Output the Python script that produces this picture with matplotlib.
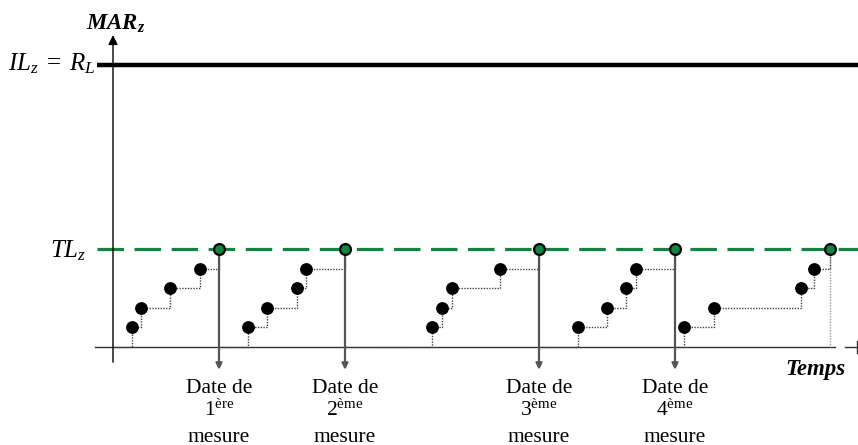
import numpy as np
import matplotlib.pyplot as plt

plt.rcParams['font.family'] = ['Liberation Serif', 'DejaVu Serif']
plt.rcParams['mathtext.fontset'] = 'custom'
plt.rcParams['mathtext.rm'] = 'Liberation Serif'
plt.rcParams['mathtext.it'] = 'Liberation Serif:italic'
plt.rcParams['mathtext.bf'] = 'Liberation Serif:bold:italic'

# levels of MAR_z (step units), TL reached at level 5
IL = 14.45
TL = 5
levels = [1, 2, 3, 4]

# times of the intermediate points for each cycle, and the measurement dates
cycle_times = [
    [131.7, 141.0, 170.3, 199.7],
    [248.0, 267.3, 296.7, 306.3],
    [432.3, 442.0, 451.7, 500.3],
    [577.7, 607.0, 626.3, 636.0],
    [684.3, 713.7, 800.7, 813.7],
]
dates = [219, 345, 539, 675, 830]
date_labels = ['1', '2', '3', '4']
date_sup = ['ère', 'ème', 'ème', 'ème']
t_origin = 113

green = '#0f8540'
axcol = '#333333'

fig = plt.figure(figsize=(8.58, 4.45), dpi=100)
ax = fig.add_axes([0, 0, 1, 1])
ax.set_xlim(0, 858)
ax.set_ylim(-5.03, 17.8)
ax.axis('off')

# axes
ax.annotate('', xy=(t_origin, 16.0), xytext=(t_origin, -0.78),
            arrowprops=dict(arrowstyle='-|>', color='black', lw=1.0,
                            mutation_scale=14, shrinkA=0, shrinkB=0))
ax.plot([95, 835], [0, 0], color=axcol, lw=1.0)
ax.plot([845, 857], [0, 0], color=axcol, lw=1.0)
ax.plot([857, 857], [-0.3, 0.3], color=axcol, lw=1.0)

# IL and TL thresholds
ax.plot([97, 858], [IL, IL], color='black', lw=3.2, solid_capstyle='butt')
ax.plot([97, 858], [TL, TL], color=green, lw=2.3, dashes=(8.3, 3.3))

# staircases
start = t_origin
for times, d in zip(cycle_times, dates):
    xs = [start] + times + [d]
    ys = [0] + levels + [TL]
    ax.plot(xs, ys, drawstyle='steps-post', color='#444444', lw=1.0,
            ls=(0, (1, 1)), zorder=2)
    ax.plot(times, levels, 'o', color='black', ms=8.2, zorder=4)
    ax.plot([d], [TL], 'o', mfc=green, mec='black', mew=1.6, ms=7.8, zorder=5)
    start = d

# measurement arrows
for d in dates[:4]:
    ax.annotate('', xy=(d, -1.17), xytext=(d, TL),
                arrowprops=dict(arrowstyle='-|>', color='#555555', lw=1.6,
                                mutation_scale=9, shrinkA=0, shrinkB=0),
                zorder=3)
ax.plot([dates[4], dates[4]], [TL, 0], color='#999999', lw=1.0,
        ls=(0, (1, 1)), zorder=2)

# labels
ax.text(86, 16.6, r'$\mathbf{MAR}_{\mathbf{z}}$', fontsize=16.5, va='center', ha='left')
ax.text(95, 14.2, r'$IL_z\;=\;R_L$', fontsize=18, ha='right', va='baseline')
ax.text(50, 4.6, r'$TL_z$', fontsize=18, ha='left', va='baseline')
ax.text(785, -1.44, 'Temps', fontsize=16.5, fontweight='bold', fontstyle='italic',
        ha='left', va='baseline')

for d, n, s in zip(dates, date_labels, date_sup):
    ax.text(d, -2.34, 'Date de', fontsize=15.5, ha='center', va='baseline')
    ax.text(d, -3.55, n + r'$^{\mathrm{' + s + '}}$', fontsize=15.5,
            ha='center', va='baseline')
    ax.text(d, -4.86, 'mesure', fontsize=15.5, ha='center', va='baseline')

fig.savefig('out.png', dpi=100)
